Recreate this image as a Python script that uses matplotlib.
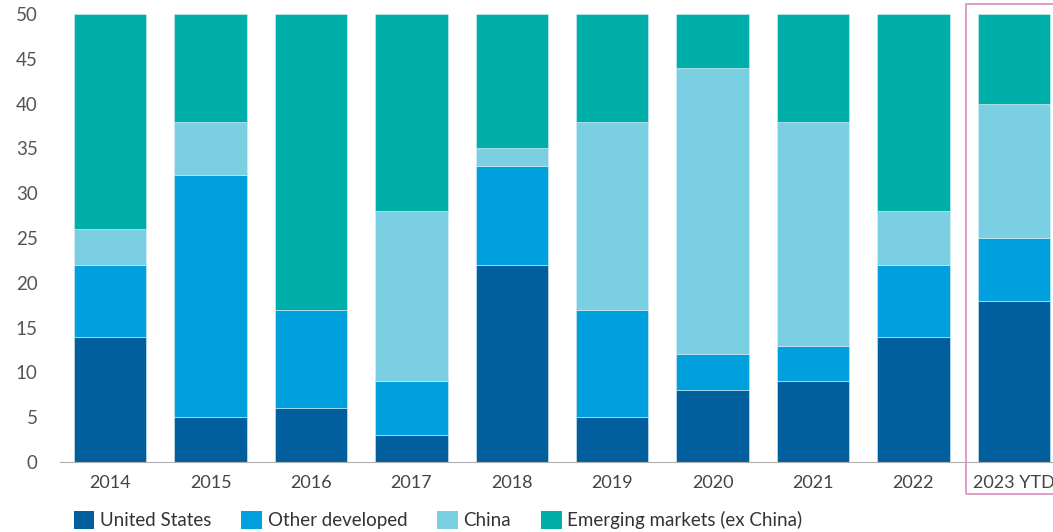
import matplotlib
matplotlib.use("Agg")
import matplotlib.pyplot as plt
from matplotlib.patches import Rectangle, Patch
import numpy as np

plt.rcParams['font.family'] = ['Lato', 'DejaVu Sans']

years = ['2014', '2015', '2016', '2017', '2018', '2019', '2020', '2021', '2022', '2023 YTD']
united_states = [14, 5, 6, 3, 22, 5, 8, 9, 14, 18]
other_developed = [8, 27, 11, 6, 11, 12, 4, 4, 8, 7]
china = [4, 6, 0, 19, 2, 21, 32, 25, 6, 15]
emerging_ex_china = [24, 12, 33, 22, 15, 12, 6, 12, 22, 10]

series = [
    ('United States', united_states, '#005f9c'),
    ('Other developed', other_developed, '#009fde'),
    ('China', china, '#7bcfe3'),
    ('Emerging markets (ex China)', emerging_ex_china, '#00aea9'),
]

fig = plt.figure(figsize=(10.53, 5.32), dpi=100)
ax = fig.add_axes([60 / 1053, 1 - 462 / 532, 1 - 60 / 1053, (462 - 14) / 532])

x = np.arange(len(years))
bottom = np.zeros(len(years))
for name, vals, col in series:
    vals = np.array(vals, dtype=float)
    ax.bar(x, vals, bottom=bottom, width=0.72, color=col, label=name,
           edgecolor='#d8eef4', linewidth=0.4)
    bottom += vals

ax.set_xlim(-0.5, 9.39)
ax.set_ylim(0, 50)
ax.set_yticks(range(0, 51, 5))
ax.set_xticks(x)
ax.set_xticklabels(years)
for s in ['top', 'right', 'left']:
    ax.spines[s].set_visible(False)
ax.spines['bottom'].set_color('#b0b0b0')
ax.spines['bottom'].set_linewidth(0.8)
ax.tick_params(axis='y', length=0, pad=16, labelsize=13.5, labelcolor='#555555')
ax.tick_params(axis='x', length=0, pad=9, labelsize=13, labelcolor='#444444')

# highlight box around the YTD bar
fig.patches.append(Rectangle((966 / 1053, 1 - 494 / 532), 0.2, (494 - 4) / 532,
                             transform=fig.transFigure, fill=False,
                             edgecolor='#d98cbd', linewidth=1.2))

handles = [Patch(facecolor=c, edgecolor='none') for _, _, c in series]
labels = [n for n, _, _ in series]
fig.legend(handles, labels, loc='lower left', bbox_to_anchor=(0.054, -0.026),
           ncol=4, frameon=False, fontsize=13.5, handlelength=1.1, handleheight=1.1,
           handletextpad=0.3, columnspacing=1.6, labelcolor='#333333')

fig.savefig('out.png', dpi=100)
